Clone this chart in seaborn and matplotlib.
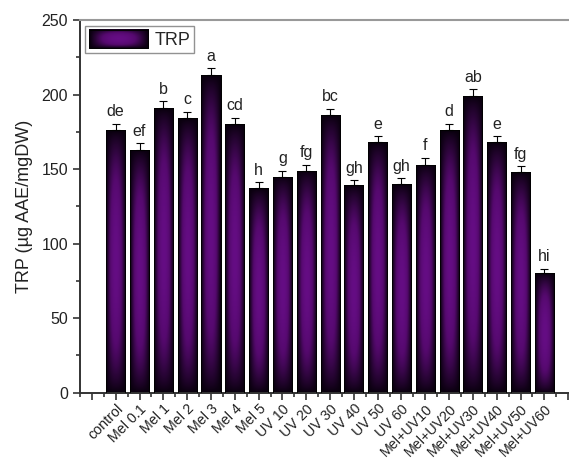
import numpy as np
import matplotlib
matplotlib.use("Agg")
import matplotlib.pyplot as plt
import seaborn as sns
from matplotlib.colors import LinearSegmentedColormap
from matplotlib.image import BboxImage
from matplotlib.patches import Rectangle
from matplotlib.ticker import AutoMinorLocator, MultipleLocator

# data
groups = ["control", "Mel 0.1", "Mel 1", "Mel 2", "Mel 3", "Mel 4", "Mel 5",
          "UV 10", "UV 20", "UV 30", "UV 40", "UV 50", "UV 60",
          "Mel+UV10", "Mel+UV20", "Mel+UV30", "Mel+UV40", "Mel+UV50", "Mel+UV60"]
trp = [176, 163, 191, 184, 213, 180, 137, 145, 149, 186, 139, 168, 140,
       153, 176, 199, 168, 148, 80]
err = [4.5, 4.5, 4.5, 4.5, 4.5, 4.5, 4, 4, 4, 4.5, 3.5, 4, 4,
       4.5, 4.5, 4.5, 4, 4, 3]
letters = ["de", "ef", "b", "c", "a", "cd", "h", "g", "fg", "bc", "gh", "e", "gh",
           "f", "d", "ab", "e", "fg", "hi"]

sns.set_style("ticks")
plt.rcParams["font.family"] = ["Liberation Sans", "DejaVu Sans"]

fig = plt.figure(figsize=(5.69, 4.59), dpi=100)
ax = fig.add_axes([80/569, (459-392.7)/459, 512/569, (392.7-20)/459])

sns.barplot(x=groups, y=trp, ax=ax, width=0.8, color="#1a0322",
            edgecolor="black", linewidth=0.6, errorbar=None)

x = np.arange(len(groups))
ax.errorbar(x, trp, yerr=[np.zeros(len(err)), err], fmt="none", ecolor="black",
            elinewidth=0.8, capsize=3, capthick=0.8, zorder=4)

# gradient fill like the original (bright purple centre, dark edges)
cmap = LinearSegmentedColormap.from_list("trp", ["#08000c", "#2c053a", "#55096e", "#650d84"])
u = np.linspace(-1, 1, 60)
v = np.linspace(-1, 1, 200)
U, V = np.meshgrid(u, v)
grad = (1 - U ** 2) ** 1.1 * (1 - V ** 2) ** 0.8

for p in list(ax.patches):
    x0, y0 = p.get_x(), p.get_y()
    w, h = p.get_width(), p.get_height()
    im = ax.imshow(grad, extent=[x0, x0 + w, y0, y0 + h], aspect="auto",
                   cmap=cmap, vmin=0, vmax=1, origin="lower", zorder=2.5,
                   interpolation="bilinear")
    im.set_clip_path(p)
    ax.add_patch(Rectangle((x0, y0), w, h, fill=False, edgecolor="black",
                           linewidth=0.6, zorder=2.6))

for xi, val, e, lab in zip(x, trp, err, letters):
    ax.text(xi, val + e + 3, lab, ha="center", va="bottom", fontsize=11.5,
            color="#222222", zorder=5)

ax.set_xlim(-1.5, 20)
ax.set_ylim(0, 250)
ax.set_xticks(range(-1, 20))
ax.set_xticklabels([""] + groups + [""], rotation=45, ha="right",
                   rotation_mode="anchor")
ax.xaxis.set_minor_locator(AutoMinorLocator(2))
ax.yaxis.set_major_locator(MultipleLocator(50))
ax.yaxis.set_minor_locator(MultipleLocator(25))
ax.tick_params(axis="both", which="major", length=5, width=1.2, color="#333333",
               labelsize=11.5, labelcolor="#222222")
ax.tick_params(axis="both", which="minor", length=3, width=1.2, color="#333333")
ax.tick_params(axis="x", labelsize=10.3, pad=1.5)
ax.set_ylabel("TRP (µg AAE/mgDW)", fontsize=13, labelpad=6, color="#222222")
ax.set_xlabel("")

for s in ["left", "bottom"]:
    ax.spines[s].set_color("#333333")
    ax.spines[s].set_linewidth(1.4)
ax.spines["top"].set_visible(True)
ax.spines["top"].set_color("#999999")
ax.spines["top"].set_linewidth(1.5)
ax.spines["right"].set_visible(False)

leg_handle = Rectangle((0, 0), 1, 1, facecolor="#2a0638", edgecolor="black",
                       linewidth=0.6)
leg = ax.legend([leg_handle], ["TRP"], loc="upper left",
                bbox_to_anchor=(0.01, 0.983), fontsize=13, frameon=True,
                fancybox=False, edgecolor="#777777", handlelength=3.3,
                handleheight=1.2, borderpad=0.2, handletextpad=0.35,
                borderaxespad=0.0)
leg.get_frame().set_linewidth(1.0)

fig.canvas.draw()
hp = leg.get_patches()[0]
bb = hp.get_window_extent()
bim = BboxImage(bb, cmap=cmap, norm=plt.Normalize(0, 1), interpolation="bilinear",
                zorder=10)
bim.set_data(grad)
fig.add_artist(bim)
fig.add_artist(Rectangle((bb.x0, bb.y0), bb.width, bb.height, fill=False,
                         edgecolor="black", linewidth=0.6, transform=None,
                         zorder=11))

fig.savefig("out.png", dpi=100)
